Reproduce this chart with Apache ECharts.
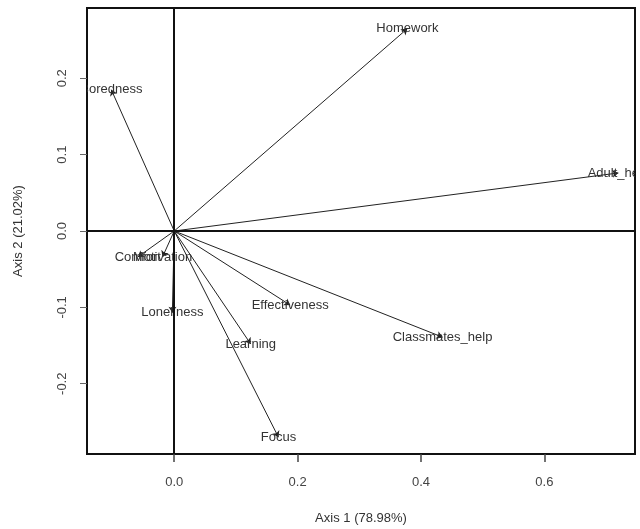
<!DOCTYPE html>
<html>
<head>
<meta charset="utf-8">
<script src="https://cdn.jsdelivr.net/npm/echarts@6/dist/echarts.min.js"></script>
<style>
html,body{margin:0;padding:0;background:#fff;}
#chart{width:640px;height:529px;}
</style>
</head>
<body>
<div id="chart"></div>
<script>
// variable loadings (end of each arrow)
var varnames = ['Homework','Adult_help','Boredness','Comfort','Motivation','Loneliness','Effectiveness','Learning','Focus','Classmates_help'];
var axis1 = [0.378, 0.72, -0.102, -0.059, -0.019, -0.003, 0.188, 0.124, 0.169, 0.435];
var axis2 = [0.265, 0.076, 0.185, -0.034, -0.034, -0.107, -0.097, -0.148, -0.27, -0.139];
var xticks = [0, 0.2, 0.4, 0.6];
var yticks = [-0.2, -0.1, 0, 0.1, 0.2];

var arrows = [];
var pts = [];
for(var i=0;i<varnames.length;i++)
{
	arrows.push({coords:[[0,0],[axis1[i],axis2[i]]]});
	pts.push([axis1[i],axis2[i],i]);
}

var font = 'Liberation Sans, Arial, sans-serif';
var chart = echarts.init(document.getElementById('chart'));
var option = {
	backgroundColor: '#fff',
	animation: false,
	grid: {
		left: 87, right: 5, top: 8, bottom: 75,
		show: true, borderColor: '#111', borderWidth: 2,
		containLabel: false, outerBoundsMode: 'none'
	},
	xAxis: {
		type: 'value', min: -0.1414, max: 0.747,
		name: 'Axis 1 (78.98%)', nameLocation: 'middle', nameGap: 58,
		nameTextStyle: {color: '#333', fontSize: 13, fontFamily: font},
		axisLine: {show: false, onZero: false},
		splitLine: {show: false},
		axisTick: {show: true, length: 8, customValues: xticks, lineStyle: {color: '#444', width: 1.5}},
		axisLabel: {customValues: xticks, color: '#444', fontSize: 13, fontFamily: font, margin: 22,
			formatter: function(v){ return v.toFixed(1); }}
	},
	yAxis: {
		type: 'value', min: -0.292, max: 0.292,
		name: 'Axis 2 (21.02%)', nameLocation: 'middle', nameGap: 62,
		nameTextStyle: {color: '#333', fontSize: 13, fontFamily: font},
		axisLine: {show: false, onZero: false},
		splitLine: {show: false},
		axisTick: {show: true, length: 7, customValues: yticks, lineStyle: {color: '#666', width: 1}},
		axisLabel: {customValues: yticks, rotate: 90, color: '#444', fontSize: 13, fontFamily: font, margin: 18,
			formatter: function(v){ return v.toFixed(1); }}
	},
	series: [
		{
			type: 'lines',
			coordinateSystem: 'cartesian2d',
			symbol: ['none','arrow'],
			symbolSize: 6,
			lineStyle: {color: '#222', width: 1, opacity: 1, curveness: 0},
			silent: true,
			z: 3,
			data: arrows
		},
		{
			type: 'custom',
			coordinateSystem: 'cartesian2d',
			silent: true,
			z: 4,
			data: pts,
			renderItem: function(params, api){
				var p = api.coord([api.value(0), api.value(1)]);
				var cs = params.coordSys;
				return {
					type: 'group',
					clipPath: {type: 'rect', shape: {x: cs.x, y: cs.y, width: cs.width, height: cs.height}},
					children: [{
						type: 'text', x: p[0], y: p[1],
						style: {text: varnames[api.value(2)], fill: '#333', fontSize: 13, fontFamily: font,
							align: 'center', verticalAlign: 'middle'}
					}]
				};
			},
			markLine: {
				silent: true, symbol: 'none', animation: false,
				label: {show: false},
				lineStyle: {color: '#111', width: 2, type: 'solid'},
				data: [{xAxis: 0}, {yAxis: 0}]
			}
		}
	]
};
chart.setOption(option);
</script>
</body>
</html>
